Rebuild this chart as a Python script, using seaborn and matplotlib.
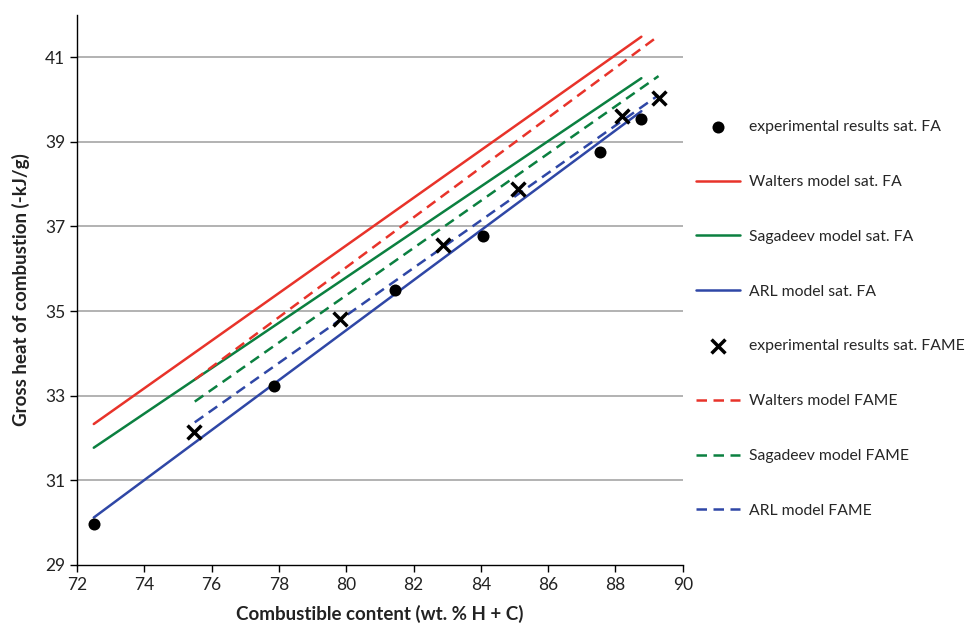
import matplotlib
matplotlib.use("Agg")
import matplotlib.pyplot as plt
import seaborn as sns
import pandas as pd

sns.set_theme(style="white")
plt.rcParams['font.family'] = ['Lato', 'DejaVu Sans']

# experimental data
exp_fa_x = [72.5, 77.85, 81.44, 84.06, 87.53, 88.75]
exp_fa_y = [29.97, 33.23, 35.49, 36.77, 38.75, 39.53]
exp_fame_x = [75.47, 79.81, 82.87, 85.10, 88.19, 89.29]
exp_fame_y = [32.15, 34.82, 36.56, 37.88, 39.60, 40.03]

# model lines (start/end points)
fa_x = [72.5, 88.77]
walters_fa_y = [32.33, 41.48]
sagadeev_fa_y = [31.77, 40.50]
arl_fa_y = [30.12, 39.72]
fame_x = [75.5, 89.28]
walters_fame_y = [33.38, 41.50]
sagadeev_fame_y = [32.86, 40.55]
arl_fame_y = [32.37, 40.10]

labels = ["experimental results sat. FA", "Walters model sat. FA", "Sagadeev model sat. FA",
          "ARL model sat. FA", "experimental results sat. FAME", "Walters model FAME",
          "Sagadeev model FAME", "ARL model FAME"]
x_ticks = [72, 74, 76, 78, 80, 82, 84, 86, 88, 90]
y_ticks = [29, 31, 33, 35, 37, 39, 41]

RED = "#E8332A"
GREEN = "#0B8040"
BLUE = "#2F47A6"

fig = plt.figure(figsize=(9.74, 6.26), dpi=100)
ax = fig.add_axes([0.079, 0.0975, 0.622, 0.879])

for yv in y_ticks[1:]:
    ax.axhline(yv, color="#ADADAD", lw=1.3, zorder=0)

solid = [(walters_fa_y, RED, labels[1]), (sagadeev_fa_y, GREEN, labels[2]), (arl_fa_y, BLUE, labels[3])]
for ys, c, lab in solid:
    sns.lineplot(x=fa_x, y=ys, color=c, lw=1.8, ax=ax, label=lab)

dashed = [(walters_fame_y, RED, labels[5]), (sagadeev_fame_y, GREEN, labels[6]), (arl_fame_y, BLUE, labels[7])]
for ys, c, lab in dashed:
    sns.lineplot(x=fame_x, y=ys, color=c, lw=1.8, ax=ax, label=lab, linestyle=(0, (4.2, 2.6)))

sns.scatterplot(x=exp_fa_x, y=exp_fa_y, marker="o", s=75, color="black", edgecolor="black",
                linewidth=0, ax=ax, label=labels[0], zorder=5)
sns.scatterplot(x=exp_fame_x, y=exp_fame_y, marker="x", s=100, color="black",
                linewidth=2.5, ax=ax, label=labels[4], zorder=5)

ax.set_xlim(72, 90)
ax.set_ylim(29, 42)
ax.set_xticks(x_ticks)
ax.set_yticks(y_ticks)
ax.tick_params(axis="both", direction="out", length=5, width=1, color="black",
               labelsize=12.5, labelcolor="#222222", bottom=True, left=True)
for s in ["top", "right"]:
    ax.spines[s].set_visible(False)
for s in ["left", "bottom"]:
    ax.spines[s].set_color("black")
    ax.spines[s].set_linewidth(1.0)

ax.set_xlabel("Combustible content (wt. % H + C)", fontsize=13.5, fontweight="bold", color="#222222", labelpad=9)
ax.set_ylabel("Gross heat of combustion (-kJ/g)", fontsize=13.5, fontweight="bold", color="#222222", labelpad=11)

h, l = ax.get_legend_handles_labels()
d = dict(zip(l, h))
ax.legend([d[k] for k in labels], labels, loc="upper left", bbox_to_anchor=(0.708, 0.818),
          bbox_transform=fig.transFigure, frameon=False, fontsize=11.3, labelspacing=2.6,
          handlelength=2.8, handletextpad=0.6, borderaxespad=0, markerscale=1.0)

fig.savefig("out.png", dpi=100)
